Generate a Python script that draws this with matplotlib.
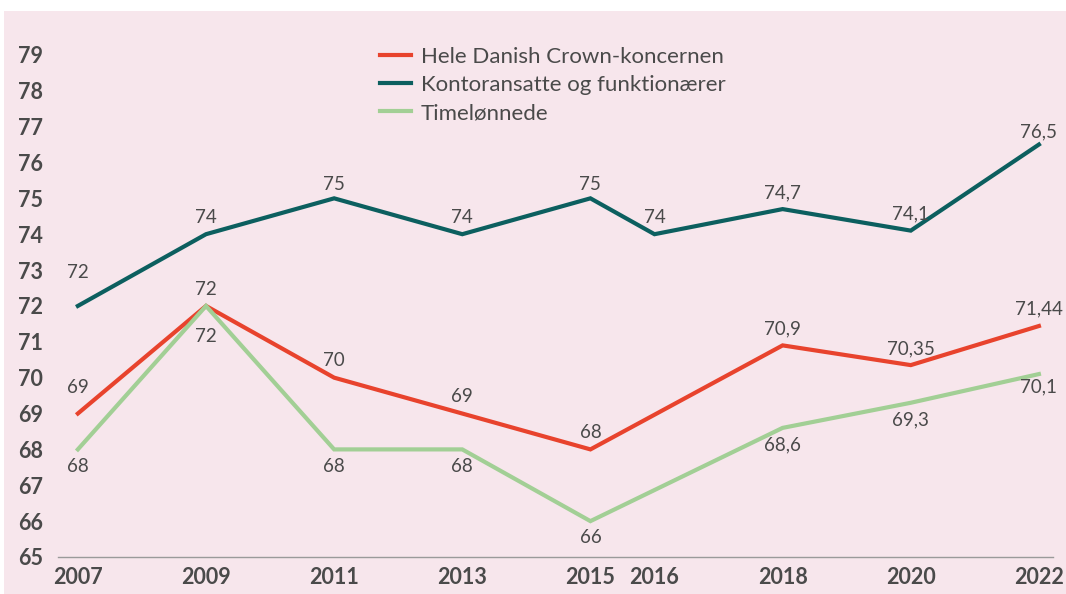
import matplotlib
matplotlib.use("Agg")
import matplotlib.pyplot as plt
from matplotlib.patches import Rectangle

years_all = [2007, 2009, 2011, 2013, 2015, 2016, 2018, 2020, 2022]
xtick_labels = ["2007", "2009", "2011", "2013", "2015", "2016", "2018", "2020", "2022"]

years_hele = [2007, 2009, 2011, 2013, 2015, 2018, 2020, 2022]
hele = [69, 72, 70, 69, 68, 70.9, 70.35, 71.44]
hele_labels = ["69", "72", "70", "69", "68", "70,9", "70,35", "71,44"]

years_kontor = [2007, 2009, 2011, 2013, 2015, 2016, 2018, 2020, 2022]
kontor = [72, 74, 75, 74, 75, 74, 74.7, 74.1, 76.5]
kontor_labels = ["72", "74", "75", "74", "75", "74", "74,7", "74,1", "76,5"]

years_time = [2007, 2009, 2011, 2013, 2015, 2018, 2020, 2022]
time = [68, 72, 68, 68, 66, 68.6, 69.3, 70.1]
time_labels = ["68", "72", "68", "68", "66", "68,6", "69,3", "70,1"]

yticks = list(range(65, 80))

series_names = ["Hele Danish Crown-koncernen", "Kontoransatte og funktionærer", "Timelønnede"]

RED = "#E8432D"
TEAL = "#0C5F5F"
GREEN = "#A2CF95"
TXT = "#4A4A4A"
BG = "#F7E6EC"

plt.rcParams['font.family'] = ['Lato', 'DejaVu Sans']

W, H = 1066, 594
fig = plt.figure(figsize=(W / 100, H / 100), dpi=100, facecolor="white")
fig.patches.append(Rectangle((4 / W, 0), 1 - 4 / W, 1 - 11 / H, transform=fig.transFigure,
                             facecolor=BG, edgecolor="none", zorder=-10))

left, right = 58 / W, 1053 / W
bottom, top = (H - 557) / H, (H - 19) / H
ax = fig.add_axes([left, bottom, right - left, top - bottom])
ax.set_facecolor("none")

ax.plot(years_hele, hele, color=RED, lw=3, label=series_names[0], solid_joinstyle="miter")
ax.plot(years_kontor, kontor, color=TEAL, lw=3, label=series_names[1], solid_joinstyle="miter")
ax.plot(years_time, time, color=GREEN, lw=3, label=series_names[2], solid_joinstyle="miter")

def annotate(xs, ys, labels, sign, special):
    for i, (x, y, t) in enumerate(zip(xs, ys, labels)):
        off = special.get(i, 12)
        ax.annotate(t, (x, y), xytext=(0, sign * off), textcoords="offset points",
                    ha="center", va="center", fontsize=13.5, color=TXT)

annotate(years_kontor, kontor, kontor_labels, 1, {0: 24, 2: 10, 4: 10, 8: 9})
annotate(years_hele, hele, hele_labels, 1, {0: 19})
annotate(years_time, time, time_labels, -1, {1: 22, 7: 9})

ax.set_xlim(2006.69, 2022.22)
ax.set_ylim(65, 80)
ax.set_xticks(years_all)
ax.set_xticklabels(xtick_labels)
ax.set_yticks(yticks)
ax.set_yticklabels([str(v) for v in yticks])

for lab in ax.get_xticklabels() + ax.get_yticklabels():
    lab.set_fontweight("bold")
    lab.set_fontsize(15.5)
    lab.set_color(TXT)

ax.tick_params(axis="both", length=0)
ax.tick_params(axis="x", pad=7)
ax.tick_params(axis="y", pad=11)

for s in ["top", "right", "left"]:
    ax.spines[s].set_visible(False)
ax.spines["bottom"].set_color("#9A9A9A")
ax.spines["bottom"].set_linewidth(1)

leg = ax.legend(loc="upper left", bbox_to_anchor=((380 - 58) / (1053 - 58), 1 - (47 - 19) / (557 - 19)),
                frameon=False, fontsize=16, handlelength=1.4, handletextpad=0.45,
                labelspacing=0.36, borderpad=0, borderaxespad=0)
for t in leg.get_texts():
    t.set_color(TXT)

fig.savefig("out.png", dpi=100, facecolor=fig.get_facecolor())
